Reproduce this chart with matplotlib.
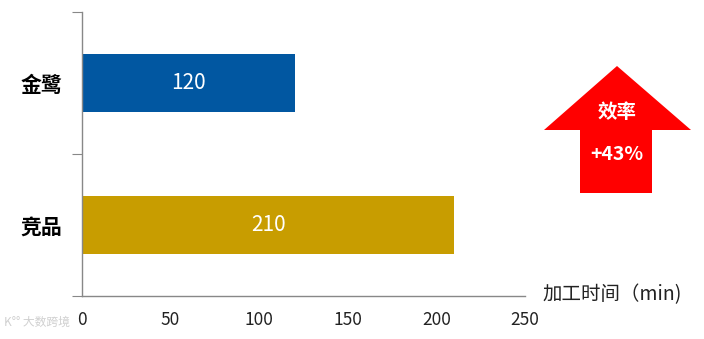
import matplotlib.pyplot as plt
from matplotlib.patches import Polygon

plt.rcParams['font.family'] = ['Noto Sans CJK SC', 'DejaVu Sans']

# data
categories = ['竞品', '金鹭']
values = [210, 120]
colors = ['#C89D00', '#0157A1']
x_ticks = [0, 50, 100, 150, 200, 250]
x_label = '加工时间（min)'
badge_title = '效率'
badge_value = '+43%'

W, H = 704, 339
fig = plt.figure(figsize=(W / 100, H / 100), dpi=100)
ax = fig.add_axes([82 / W, 1 - 296 / H, 443 / W, 284 / H])

pos = [0.5, 1.5]
bars = ax.barh(pos, values, height=0.41, color=colors)
for b, v in zip(bars, values):
    ax.text(v / 2, b.get_y() + b.get_height() / 2, str(v), ha='center', va='center',
            color='white', fontsize=15)

ax.set_xlim(0, 250)
ax.set_ylim(0, 2)
ax.set_xticks(x_ticks)
ax.set_xticklabels([str(t) for t in x_ticks], fontsize=12.5, color='#222222')
ax.tick_params(axis='x', length=0, pad=11)
ax.set_yticks([0, 1, 2])
ax.set_yticklabels([])
ax.tick_params(axis='y', which='major', length=7, color='#888888')
ax.set_yticks(pos, minor=True)
ax.set_yticklabels(categories, minor=True, fontsize=15, fontweight='bold')
ax.tick_params(axis='y', which='minor', length=0, pad=14)

for s in ['top', 'right']:
    ax.spines[s].set_visible(False)
for s in ['left', 'bottom']:
    ax.spines[s].set_color('#888888')
    ax.spines[s].set_linewidth(1)

fig.text(542 / W, 1 - 295 / H, x_label, fontsize=14, color='#222222', va='center', ha='left')

# red arrow badge
pts = [(617, 66), (691, 130), (652, 130), (652, 193), (580, 193), (580, 130), (544, 130)]
arrow = Polygon([(x / W, 1 - y / H) for x, y in pts], closed=True,
                transform=fig.transFigure, facecolor='#FF0000', edgecolor='none')
fig.patches.append(arrow)
fig.text(617 / W, 1 - 113 / H, badge_title, color='white', fontsize=14,
         fontweight='bold', ha='center', va='center')
fig.text(617 / W, 1 - 155 / H, badge_value, color='white', fontsize=14,
         fontweight='bold', ha='center', va='center')

# watermark
fig.text(4 / W, 1 - 322 / H, 'K°° 大数跨境', color='#D0D0D0', fontsize=8.5, va='center')

fig.savefig('out.png', dpi=100)
